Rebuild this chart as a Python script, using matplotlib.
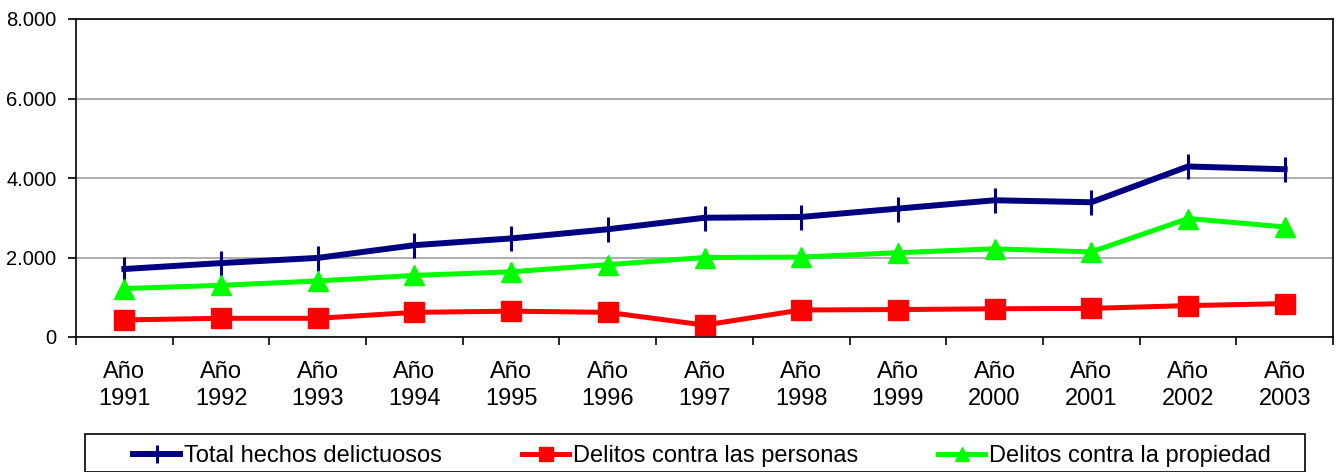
import matplotlib.pyplot as plt
from matplotlib.patches import Rectangle
from matplotlib.ticker import FuncFormatter

plt.rcParams['font.family'] = ['Liberation Sans', 'DejaVu Sans']

anios = ["Año\n1991", "Año\n1992", "Año\n1993", "Año\n1994", "Año\n1995", "Año\n1996", "Año\n1997",
         "Año\n1998", "Año\n1999", "Año\n2000", "Año\n2001", "Año\n2002", "Año\n2003"]
total = [1710, 1860, 1990, 2310, 2480, 2710, 3000, 3020, 3230, 3440, 3390, 4290, 4220]
personas = [430, 470, 470, 620, 650, 620, 300, 680, 690, 710, 720, 790, 840]
propiedad = [1220, 1300, 1410, 1550, 1640, 1820, 2000, 2010, 2120, 2220, 2140, 2980, 2770]

W, H = 1339, 472
fig = plt.figure(figsize=(W / 100, H / 100), dpi=100)
ax = fig.add_axes([76 / W, 1 - 337 / H, (1333 - 76) / W, (337 - 19) / H])

x = list(range(len(anios)))
ax.plot(x, total, color="#000080", lw=4.3, marker="|", ms=18, mew=2.2,
        label="Total hechos delictuosos", zorder=3)
ax.plot(x, personas, color="#ff0000", lw=3.6, marker="s", ms=14,
        label="Delitos contra las personas", zorder=3)
ax.plot(x, propiedad, color="#00ff00", lw=3.6, marker="^", ms=15,
        label="Delitos contra la propiedad", zorder=3)

ax.set_xlim(-0.5, len(anios) - 0.5)
ax.set_ylim(0, 8000)
ax.set_yticks([0, 2000, 4000, 6000, 8000])
ax.yaxis.set_major_formatter(FuncFormatter(lambda v, p: f"{int(v):,}".replace(",", ".")))
ax.set_xticks(x)
ax.set_xticklabels(anios, linespacing=1.3)
ax.set_xticks([i - 0.5 for i in range(len(anios) + 1)], minor=True)
ax.tick_params(axis="x", which="major", length=0, labelsize=17, pad=17)
ax.tick_params(axis="x", which="minor", length=6, width=1.2, direction="out")
ax.tick_params(axis="y", length=6, width=1.2, labelsize=14.5, pad=8)
ax.yaxis.grid(True, color="#a0a0a0", lw=1.2)
for s in ax.spines.values():
    s.set_linewidth(1.2)

# recuadro de la leyenda
fig.patches.append(Rectangle((85 / W, 0), (1305 - 85) / W, 1 - 434 / H, transform=fig.transFigure,
                             fill=False, edgecolor="black", lw=1.2))
fig.legend(loc="center left", bbox_to_anchor=(133 / W, 1 - 456 / H), ncol=3, fontsize=17,
           frameon=False, handlelength=2.0, handletextpad=0.15, columnspacing=3.4,
           markerscale=0.7, borderpad=0, borderaxespad=0)

fig.savefig("out.png", dpi=100)
